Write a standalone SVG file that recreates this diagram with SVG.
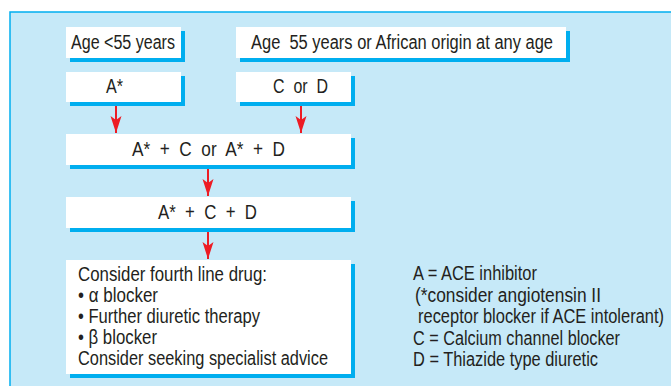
<svg xmlns="http://www.w3.org/2000/svg" width="671" height="386" viewBox="0 0 671 386">
<style>
.bg{fill:#c6e9f8;stroke:#00aeef;stroke-width:1.5}
.box{fill:#ffffff}
.sh{fill:#00aeef}
text{font-family:"Liberation Sans",Arial,sans-serif;font-size:20px;fill:#231f20;white-space:pre}
.arr{stroke:#ed1c24;stroke-width:2;fill:none}
</style>
<defs>
<marker id="ah" markerUnits="userSpaceOnUse" markerWidth="20" markerHeight="14" viewBox="-18 -7 20 14" refX="0" refY="0" orient="auto">
<path d="M0,0 L-17,-5.5 L-13,0 L-17,5.5 Z" fill="#ed1c24"/>
</marker>
</defs>
<rect class="bg" x="10" y="12" width="670" height="390"/>
<g id="connectors">
<line class="arr" x1="116" y1="102" x2="116" y2="133" marker-end="url(#ah)"/>
<line class="arr" x1="301" y1="102" x2="301" y2="133" marker-end="url(#ah)"/>
<line class="arr" x1="208" y1="165" x2="208" y2="196" marker-end="url(#ah)"/>
<line class="arr" x1="208" y1="228" x2="208" y2="259" marker-end="url(#ah)"/>
</g>
<g id="n1">
<rect class="sh" x="70" y="31" width="115" height="31"/>
<rect class="box" x="66" y="27" width="115" height="31"/>
<text x="71" y="48.5" textLength="104" lengthAdjust="spacingAndGlyphs">Age &lt;55 years</text>
</g>
<g id="n2">
<rect class="sh" x="240" y="31" width="330" height="31"/>
<rect class="box" x="236" y="27" width="330" height="31"/>
<text x="251" y="48.5" textLength="302" lengthAdjust="spacingAndGlyphs">Age  55 years or African origin at any age</text>
</g>
<g id="n3">
<rect class="sh" x="70" y="76" width="115" height="30"/>
<rect class="box" x="66" y="72" width="115" height="30"/>
<text x="106" y="92.5" textLength="17" lengthAdjust="spacingAndGlyphs">A*</text>
</g>
<g id="n4">
<rect class="sh" x="240" y="76" width="115" height="30"/>
<rect class="box" x="236" y="72" width="115" height="30"/>
<text x="273" y="92.5" textLength="55" lengthAdjust="spacingAndGlyphs">C  or  D</text>
</g>
<g id="n5">
<rect class="sh" x="70" y="138" width="285" height="31"/>
<rect class="box" x="66" y="134" width="285" height="31"/>
<text x="132" y="155.5" textLength="153" lengthAdjust="spacingAndGlyphs">A*  +  C  or  A*  +  D</text>
</g>
<g id="n6">
<rect class="sh" x="70" y="201" width="285" height="31"/>
<rect class="box" x="66" y="197" width="285" height="31"/>
<text x="158" y="218.5" textLength="99" lengthAdjust="spacingAndGlyphs">A*  +  C  +  D</text>
</g>
<g id="n7">
<rect class="sh" x="70" y="264" width="285" height="114"/>
<rect class="box" x="66" y="260" width="285" height="114"/>
<text x="78" y="281" textLength="189" lengthAdjust="spacingAndGlyphs">Consider fourth line drug:</text>
<text x="78" y="302" textLength="80" lengthAdjust="spacingAndGlyphs">• α blocker</text>
<text x="78" y="323" textLength="182" lengthAdjust="spacingAndGlyphs">• Further diuretic therapy</text>
<text x="78" y="344" textLength="79" lengthAdjust="spacingAndGlyphs">• β blocker</text>
<text x="78" y="365" textLength="250" lengthAdjust="spacingAndGlyphs">Consider seeking specialist advice</text>
</g>
<g id="legend">
<text x="413" y="280" textLength="124" lengthAdjust="spacingAndGlyphs">A = ACE inhibitor</text>
<text x="415" y="301.5" textLength="186" lengthAdjust="spacingAndGlyphs">(*consider angiotensin II</text>
<text x="418" y="323" textLength="246" lengthAdjust="spacingAndGlyphs">receptor blocker if ACE intolerant)</text>
<text x="413" y="344.5" textLength="207" lengthAdjust="spacingAndGlyphs">C = Calcium channel blocker</text>
<text x="413" y="365.5" textLength="185" lengthAdjust="spacingAndGlyphs">D = Thiazide type diuretic</text>
</g>
</svg>
